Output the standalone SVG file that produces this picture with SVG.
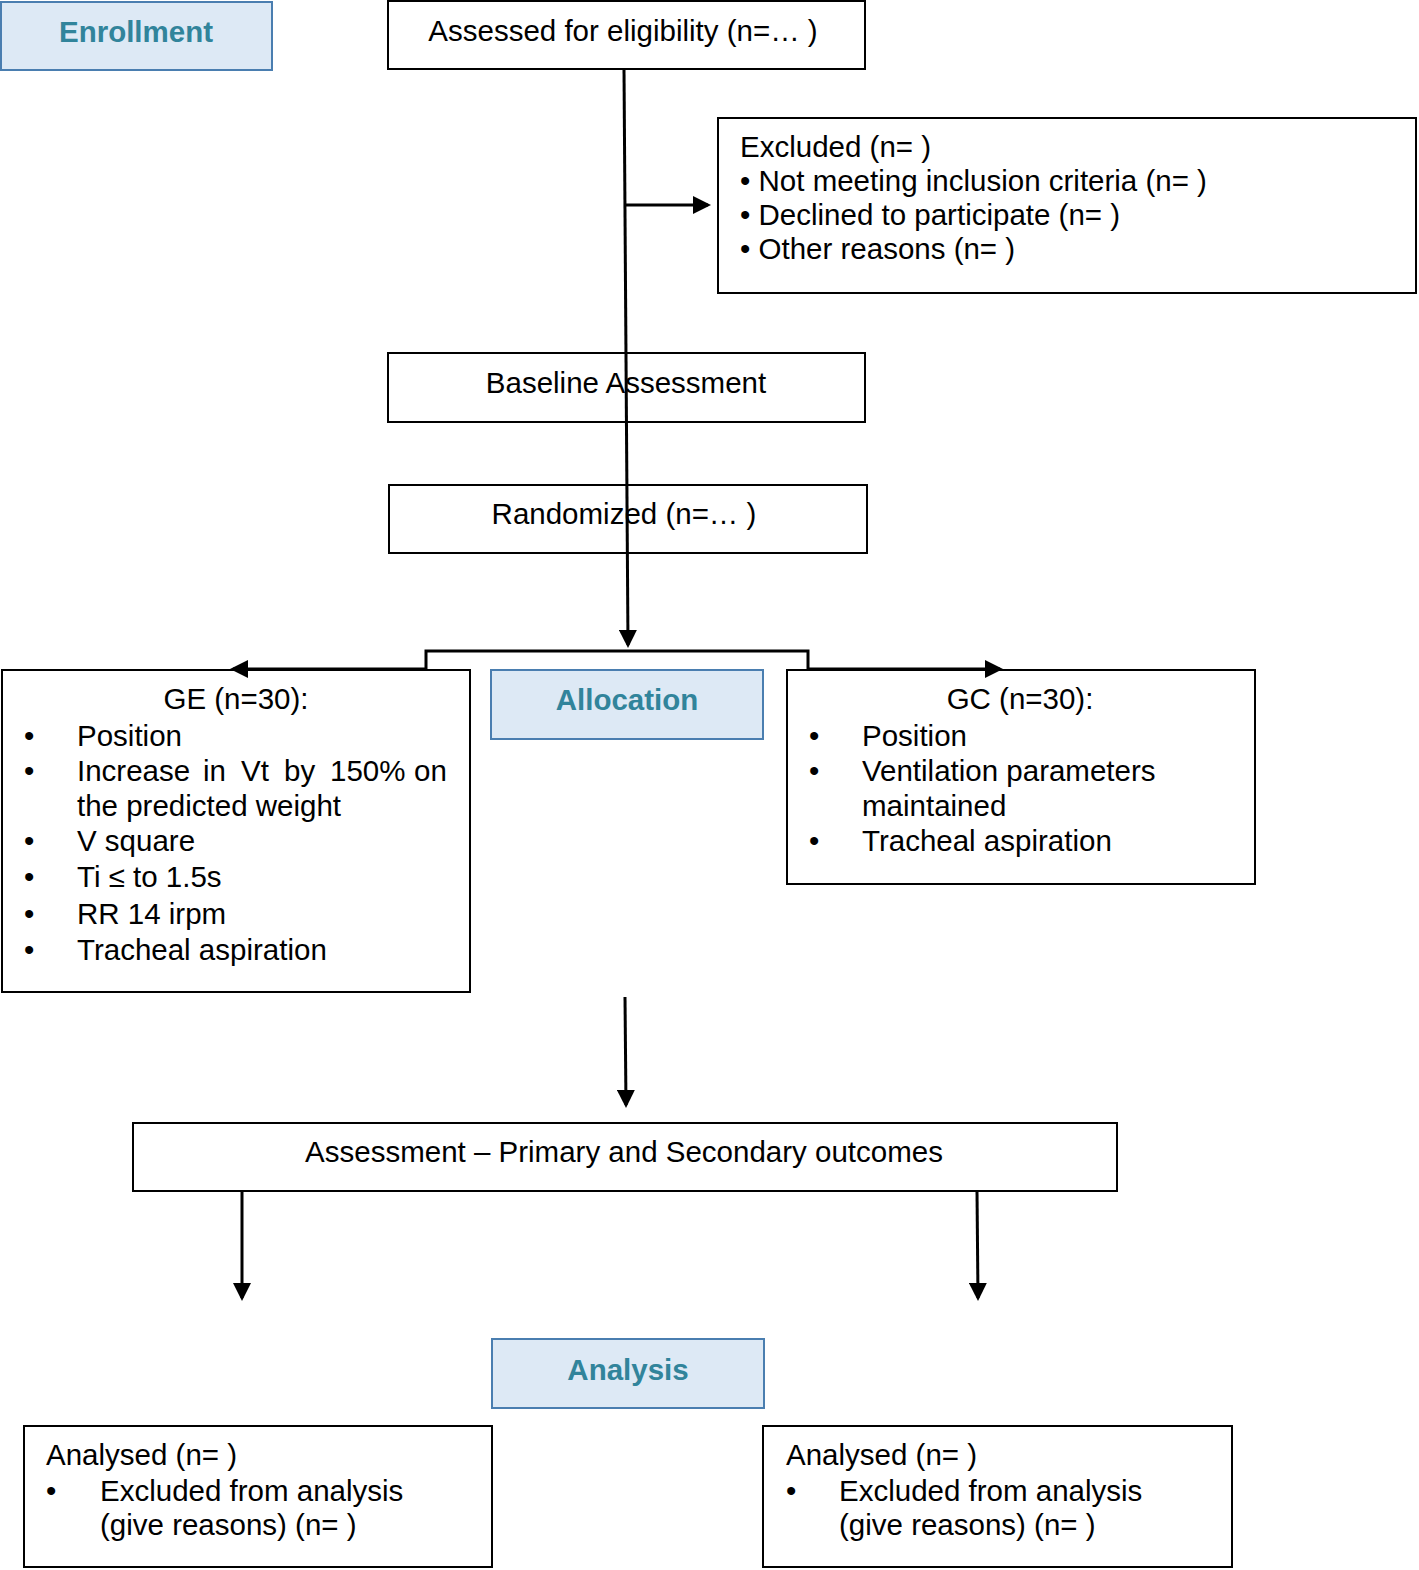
<svg xmlns="http://www.w3.org/2000/svg" width="1419" height="1570" viewBox="0 0 1419 1570">
<style>
.box{fill:#fff;stroke:#000;stroke-width:2}
.phase{fill:#dde9f5;stroke:#4a7eb0;stroke-width:2}
.pt{font-family:"Liberation Sans",Arial,sans-serif;font-size:29.5px;font-weight:bold;fill:#31849b;text-anchor:middle}
.t{font-family:"Liberation Sans",Arial,sans-serif;font-size:29.5px;fill:#000}
.c{text-anchor:middle}
.ln{fill:none;stroke:#000;stroke-width:3}
</style>
<defs>
<marker id="ah" markerWidth="6" markerHeight="6" refX="5" refY="3" orient="auto" markerUnits="strokeWidth">
<path d="M0,0 L6,3 L0,6 Z" fill="#000"/>
</marker>
</defs>
<g id="enrollment">
<rect class="phase" x="1" y="2" width="271" height="68"/>
<text class="pt" x="136" y="42">Enrollment</text>
</g>
<g id="assessed">
<rect class="box" x="388" y="1" width="477" height="68"/>
<text class="t c" x="623" y="41">Assessed for eligibility (n=… )</text>
</g>
<g id="excluded">
<rect class="box" x="718" y="118" width="698" height="175"/>
<text class="t" x="740" y="157">Excluded (n= )</text>
<text class="t" x="740" y="191">• Not meeting inclusion criteria (n= )</text>
<text class="t" x="740" y="225">• Declined to participate (n= )</text>
<text class="t" x="740" y="259">• Other reasons (n= )</text>
</g>
<g id="baseline">
<rect class="box" x="388" y="353" width="477" height="69"/>
<text class="t c" x="626" y="393">Baseline Assessment</text>
</g>
<g id="randomized">
<rect class="box" x="389" y="485" width="478" height="68"/>
<text class="t c" x="624" y="524">Randomized (n=… )</text>
</g>
<g id="allocation">
<rect class="phase" x="491" y="670" width="272" height="69"/>
<text class="pt" x="627" y="710">Allocation</text>
</g>
<g id="ge">
<rect class="box" x="2" y="670" width="468" height="322"/>
<text class="t c" x="236" y="709">GE (n=30):</text>
<text class="t" x="24" y="746">•</text><text class="t" x="77" y="746">Position</text>
<text class="t" x="24" y="781">•</text>
<text class="t" y="781"><tspan x="77">Increase</tspan><tspan x="203">in</tspan><tspan x="241">Vt</tspan><tspan x="284">by</tspan><tspan x="330">150%</tspan><tspan x="414">on</tspan></text>
<text class="t" x="77" y="816">the predicted weight</text>
<text class="t" x="24" y="851">•</text><text class="t" x="77" y="851">V square</text>
<text class="t" x="24" y="887">•</text><text class="t" x="77" y="887">Ti ≤ to 1.5s</text>
<text class="t" x="24" y="924">•</text><text class="t" x="77" y="924">RR 14 irpm</text>
<text class="t" x="24" y="960">•</text><text class="t" x="77" y="960">Tracheal aspiration</text>
</g>
<g id="gc">
<rect class="box" x="787" y="670" width="468" height="214"/>
<text class="t c" x="1020" y="709">GC (n=30):</text>
<text class="t" x="809" y="746">•</text><text class="t" x="862" y="746">Position</text>
<text class="t" x="809" y="781">•</text><text class="t" x="862" y="781">Ventilation parameters</text>
<text class="t" x="862" y="816">maintained</text>
<text class="t" x="809" y="851">•</text><text class="t" x="862" y="851">Tracheal aspiration</text>
</g>
<g id="assessment">
<rect class="box" x="133" y="1123" width="984" height="68"/>
<text class="t c" x="624" y="1162">Assessment – Primary and Secondary outcomes</text>
</g>
<g id="analysis">
<rect class="phase" x="492" y="1339" width="272" height="69"/>
<text class="pt" x="628" y="1380">Analysis</text>
</g>
<g id="analysed-left">
<rect class="box" x="24" y="1426" width="468" height="141"/>
<text class="t" x="46" y="1465">Analysed (n= )</text>
<text class="t" x="46" y="1501">•</text><text class="t" x="100" y="1501">Excluded from analysis</text>
<text class="t" x="100" y="1535">(give reasons) (n= )</text>
</g>
<g id="analysed-right">
<rect class="box" x="763" y="1426" width="469" height="141"/>
<text class="t" x="786" y="1465">Analysed (n= )</text>
<text class="t" x="786" y="1501">•</text><text class="t" x="839" y="1501">Excluded from analysis</text>
<text class="t" x="839" y="1535">(give reasons) (n= )</text>
</g>
<g id="connectors">
<path class="ln" d="M624,69 L628,645" marker-end="url(#ah)"/>
<path class="ln" d="M626,205 L708,205" marker-end="url(#ah)"/>
<path class="ln" d="M426,669 L426,651 L808,651 L808,669"/>
<path class="ln" d="M426,669 L233,669" marker-end="url(#ah)"/>
<path class="ln" d="M808,669 L1000,669" marker-end="url(#ah)"/>
<path class="ln" d="M625,997 L626,1105" marker-end="url(#ah)"/>
<path class="ln" d="M242,1191 L242,1298" marker-end="url(#ah)"/>
<path class="ln" d="M977,1191 L978,1298" marker-end="url(#ah)"/>
</g>
</svg>
